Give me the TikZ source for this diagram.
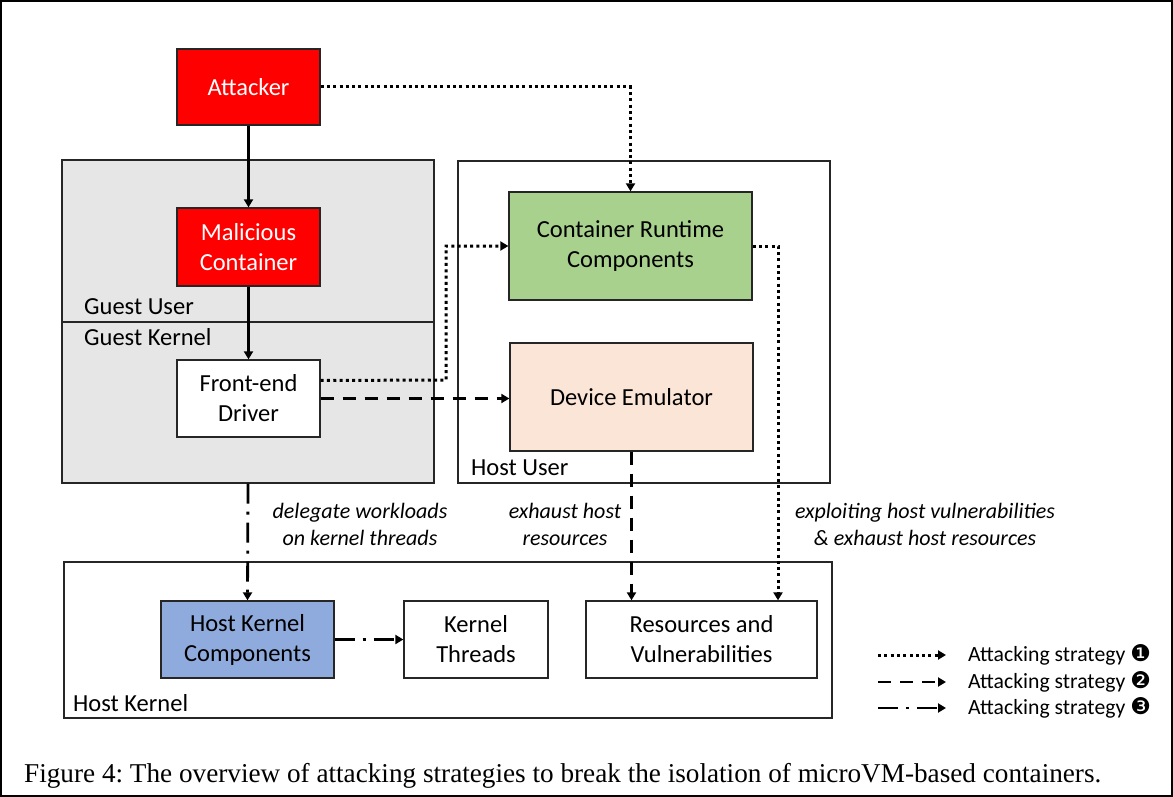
\documentclass[tikz,border=0pt]{standalone}
\usepackage{fontspec}
\setmainfont{Carlito}
\newfontfamily\capfont{Liberation Serif}
\newfontfamily\symfont{DejaVu Sans}
\usetikzlibrary{arrows.meta}
\definecolor{atkred}{HTML}{FF0000}
\definecolor{guestgray}{HTML}{E6E6E6}
\definecolor{rtgreen}{HTML}{A9D18E}
\definecolor{emupeach}{HTML}{FBE5D6}
\definecolor{hkblue}{HTML}{8FAADC}
\tikzset{
  box/.style={draw=black!85, line width=1.3pt, align=center, inner sep=0pt,
    font=\fontsize{24.5}{30}\selectfont},
  region/.style={draw=black!85, line width=1.2pt, inner sep=0pt},
  lbl/.style={font=\fontsize{24.5}{30}\selectfont, anchor=west, inner sep=0pt},
  note/.style={font=\fontsize{22}{27}\itshape, align=center},
  tip/.style={-{Triangle[length=8pt,width=9pt]}},
  solidarr/.style={line width=2.3pt, tip},
  strat1/.style={line width=3pt, dash pattern=on 3pt off 3.3pt, tip},
  strat2/.style={line width=2.8pt, dash pattern=on 13pt off 9pt, tip},
  strat3/.style={line width=2.8pt, dash pattern=on 20pt off 8pt on 3pt off 8pt, tip},
}
\begin{document}
\frenchspacing
\begin{tikzpicture}[x=1pt,y=-1pt]
    \useasboundingbox (0,0) rectangle (1173,797);
    \draw[line width=2pt] (1,1) rectangle (1172,796);

    % regions
    \node[region, fill=guestgray, minimum width=372pt, minimum height=323pt] (guest) at (248,321.5) {};
    \draw[line width=1.2pt, black!85] (62,322) -- (434,322);
    \node[lbl] (guestuser) at (84,307) {Guest User};
    \node[lbl] (guestkernel) at (84,337) {Guest Kernel};
    \node[region, minimum width=372pt, minimum height=322pt] (hostuser) at (644,322) {};
    \node[lbl] (hostuserlbl) at (471,468) {Host User};
    \node[region, minimum width=768pt, minimum height=156pt] (hostkernel) at (448,640) {};
    \node[lbl] (hostkernellbl) at (73,703) {Host Kernel};

    % boxes
    \node[box, fill=atkred, text=white, minimum width=143pt, minimum height=76pt] (attacker) at (248.5,87) {Attacker};
    \node[box, fill=atkred, text=white, minimum width=143pt, minimum height=78pt] (malicious) at (248.5,247) {Malicious\\Container};
    \node[box, fill=white, minimum width=143pt, minimum height=77pt] (frontend) at (248.5,398.5) {Front-end\\Driver};
    \node[box, fill=rtgreen, minimum width=243pt, minimum height=108pt] (runtime) at (630.5,246) {Container Runtime\\Components};
    \node[box, fill=emupeach, minimum width=243pt, minimum height=108pt] (emulator) at (631.5,397) {Device Emulator};
    \node[box, fill=hkblue, minimum width=173pt, minimum height=77pt] (hkc) at (247.5,639.5) {Host Kernel\\Components};
    \node[box, fill=white, minimum width=144pt, minimum height=77pt] (kthreads) at (476,639.5) {Kernel\\Threads};
    \node[box, fill=white, minimum width=231pt, minimum height=77pt] (resources) at (701.5,639.5) {Resources and\\Vulnerabilities};

    % connectors
    \draw[solidarr] (attacker.south) -- (malicious.north);
    \draw[solidarr] (malicious.south) -- (frontend.north);
    \draw[strat1] (attacker.east) -| (runtime.north);
    \draw[strat1] ([yshift=18pt]frontend.east) -- (446,380) |- (runtime.west);
    \draw[strat2] (frontend.east) -- (frontend.east -| emulator.west);
    \draw[strat1] (runtime.east) -| ([xshift=76.5pt]resources.north);
    \draw[strat2] (emulator.south) -- (emulator.south |- resources.north);
    \draw[strat3] (guest.south) -- (hkc.north);
    \draw[strat3] (hkc.east) -- (kthreads.west);

    % notes
    \node[note] (n1) at (360,524) {delegate workloads\\on kernel threads};
    \node[note] (n2) at (565,524) {exhaust host\\resources};
    \node[note] (n3) at (925,524) {exploiting host vulnerabilities\\\& exhaust host resources};

    % legend
    \coordinate (l1a) at (878,655); \coordinate (l1b) at (946,655);
    \coordinate (l2a) at (878,682); \coordinate (l2b) at (946,682);
    \coordinate (l3a) at (878,708); \coordinate (l3b) at (946,708);
    \draw[strat1] (l1a) -- (l1b);
    \draw[strat2] (l2a) -- (l2b);
    \draw[strat3] (l3a) -- (l3b);
    \node[lbl, font=\fontsize{21.7}{26}\selectfont] (leg1) at (968,655) {Attacking strategy {\symfont\fontsize{23}{26}\selectfont ❶}};
    \node[lbl, font=\fontsize{21.7}{26}\selectfont] (leg2) at (968,682) {Attacking strategy {\symfont\fontsize{23}{26}\selectfont ❷}};
    \node[lbl, font=\fontsize{21.7}{26}\selectfont] (leg3) at (968,708) {Attacking strategy {\symfont\fontsize{23}{26}\selectfont ❸}};

    % caption
    \node[anchor=base west, inner sep=0pt, font=\capfont\fontsize{27.2}{32}\selectfont] (caption) at (24,782) {Figure 4: The overview of attacking strategies to break the isolation of microVM-based containers.};
\end{tikzpicture}
\end{document}
